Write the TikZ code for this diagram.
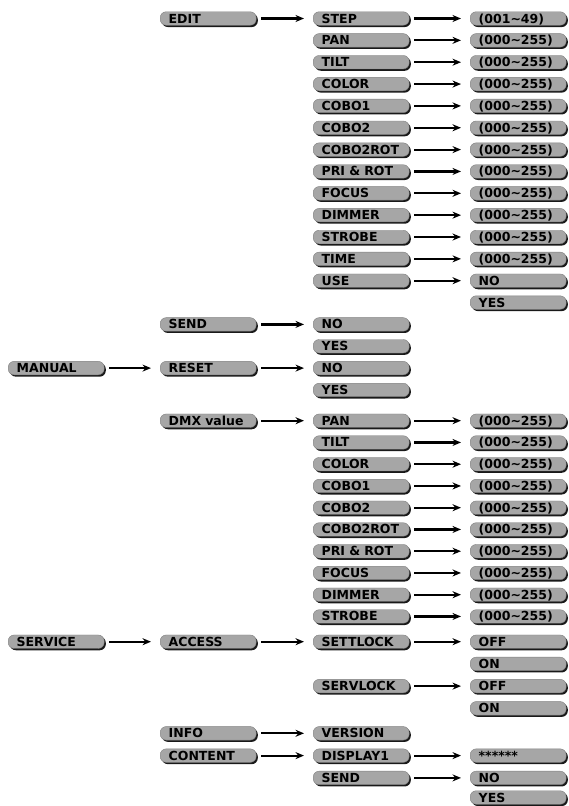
\documentclass[tikz,border=0pt]{standalone}
\usepackage{fontspec}
\setmainfont{DejaVu Sans}
\usetikzlibrary{arrows.meta}
\tikzset{
  pill/.style={anchor=west, rounded corners=6pt, fill=black!35,
    draw=black!50, line width=0.4pt, text=black,
    preaction={fill=black!90, draw=none, transform canvas={shift={(1.6pt,-1.8pt)}}},
    minimum width=96pt, minimum height=13.5pt, text width=79pt, inner xsep=8.5pt, inner ysep=0pt,
    align=left, text height=9pt, text depth=0pt,
    font=\fontsize{12.5}{12.5}\selectfont\bfseries},
  conn/.style={line width=2.2pt, -{Stealth[length=8.5pt,width=7pt]}, shorten <=5pt, shorten >=9pt}
}
\begin{document}
\begin{tikzpicture}[x=1pt,y=-1pt]
\useasboundingbox (0,0) rectangle (568,806);
% column 0
\node[pill] (manual) at (8,368.1) {MANUAL};
\node[pill] (service) at (8,641.7) {SERVICE};
% column 1
\node[pill] (edit) at (160,18.5) {EDIT};
\node[pill] (send) at (160,324.4) {SEND};
\node[pill] (reset) at (160,368.1) {RESET};
\node[pill] (dmx) at (160,420.7) {DMX value};
\node[pill] (access) at (160,641.7) {ACCESS};
\node[pill] (info) at (160,733.3) {INFO};
\node[pill] (content) at (160,755.6) {CONTENT};
% column 2
\node[pill] (b0) at (313,18.5) {STEP};
\node[pill] (b1) at (313,40.35) {PAN};
\node[pill] (b2) at (313,62.2) {TILT};
\node[pill] (b3) at (313,84.05) {COLOR};
\node[pill] (b4) at (313,105.9) {COBO1};
\node[pill] (b5) at (313,127.75) {COBO2};
\node[pill] (b6) at (313,149.6) {COBO2ROT};
\node[pill] (b7) at (313,171.45) {PRI \& ROT};
\node[pill] (b8) at (313,193.3) {FOCUS};
\node[pill] (b9) at (313,215.15) {DIMMER};
\node[pill] (b10) at (313,237.0) {STROBE};
\node[pill] (b11) at (313,258.85) {TIME};
\node[pill] (b12) at (313,280.7) {USE};
\node[pill] (sendno) at (313,324.4) {NO};
\node[pill] (sendyes) at (313,346.25) {YES};
\node[pill] (resetno) at (313,368.1) {NO};
\node[pill] (resetyes) at (313,389.95) {YES};
\node[pill] (d0) at (313,420.7) {PAN};
\node[pill] (d1) at (313,442.45) {TILT};
\node[pill] (d2) at (313,464.2) {COLOR};
\node[pill] (d3) at (313,485.95) {COBO1};
\node[pill] (d4) at (313,507.7) {COBO2};
\node[pill] (d5) at (313,529.45) {COBO2ROT};
\node[pill] (d6) at (313,551.2) {PRI \& ROT};
\node[pill] (d7) at (313,572.95) {FOCUS};
\node[pill] (d8) at (313,594.7) {DIMMER};
\node[pill] (d9) at (313,616.45) {STROBE};
\node[pill] (settlock) at (313,641.7) {SETTLOCK};
\node[pill] (servlock) at (313,686.1) {SERVLOCK};
\node[pill] (version) at (313,733.3) {VERSION};
\node[pill] (display) at (313,755.6) {DISPLAY1};
\node[pill] (csend) at (313,777.9) {SEND};
% column 3
\node[pill] (v0) at (470,18.5) {(001\char"7E 49)};
\node[pill] (v1) at (470,40.35) {(000\char"7E 255)};
\node[pill] (v2) at (470,62.2) {(000\char"7E 255)};
\node[pill] (v3) at (470,84.05) {(000\char"7E 255)};
\node[pill] (v4) at (470,105.9) {(000\char"7E 255)};
\node[pill] (v5) at (470,127.75) {(000\char"7E 255)};
\node[pill] (v6) at (470,149.6) {(000\char"7E 255)};
\node[pill] (v7) at (470,171.45) {(000\char"7E 255)};
\node[pill] (v8) at (470,193.3) {(000\char"7E 255)};
\node[pill] (v9) at (470,215.15) {(000\char"7E 255)};
\node[pill] (v10) at (470,237.0) {(000\char"7E 255)};
\node[pill] (v11) at (470,258.85) {(000\char"7E 255)};
\node[pill] (useno) at (470,280.7) {NO};
\node[pill] (useyes) at (470,302.55) {YES};
\node[pill] (w0) at (470,420.7) {(000\char"7E 255)};
\node[pill] (w1) at (470,442.45) {(000\char"7E 255)};
\node[pill] (w2) at (470,464.2) {(000\char"7E 255)};
\node[pill] (w3) at (470,485.95) {(000\char"7E 255)};
\node[pill] (w4) at (470,507.7) {(000\char"7E 255)};
\node[pill] (w5) at (470,529.45) {(000\char"7E 255)};
\node[pill] (w6) at (470,551.2) {(000\char"7E 255)};
\node[pill] (w7) at (470,572.95) {(000\char"7E 255)};
\node[pill] (w8) at (470,594.7) {(000\char"7E 255)};
\node[pill] (w9) at (470,616.45) {(000\char"7E 255)};
\node[pill] (setoff) at (470,641.7) {OFF};
\node[pill] (seton) at (470,663.9) {ON};
\node[pill] (servoff) at (470,686.1) {OFF};
\node[pill] (servon) at (470,708.3) {ON};
\node[pill] (stars) at (470,755.6) {******};
\node[pill] (cno) at (470,777.9) {NO};
\node[pill] (cyes) at (470,797.5) {YES};
% connectors
\draw[conn] (manual) -- (reset);
\draw[conn] (service) -- (access);
\draw[conn] (edit) -- (b0);
\draw[conn] (send) -- (sendno);
\draw[conn] (reset) -- (resetno);
\draw[conn] (dmx) -- (d0);
\draw[conn] (access) -- (settlock);
\draw[conn] (info) -- (version);
\draw[conn] (content) -- (display);
\foreach \i in {0,...,11} {\draw[conn] (b\i) -- (v\i);}
\draw[conn] (b12) -- (useno);
\foreach \i in {0,...,9} {\draw[conn] (d\i) -- (w\i);}
\draw[conn] (settlock) -- (setoff);
\draw[conn] (servlock) -- (servoff);
\draw[conn] (display) -- (stars);
\draw[conn] (csend) -- (cno);
\end{tikzpicture}
\end{document}
